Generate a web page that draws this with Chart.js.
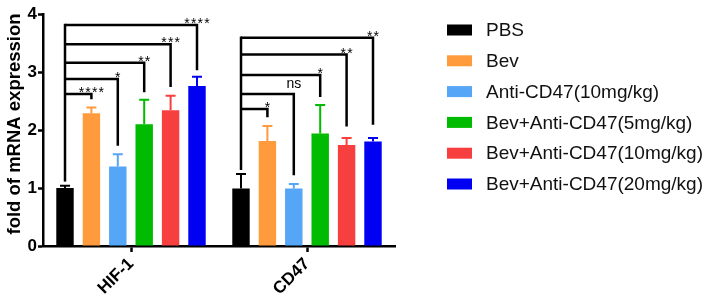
<!DOCTYPE html>
<html>
<head>
<meta charset="utf-8">
<script src="https://cdn.jsdelivr.net/npm/chart.js@4/dist/chart.umd.min.js"></script>
<style>
html,body{margin:0;padding:0;background:#fff;}
#wrap{width:706px;height:299px;position:relative;}
</style>
</head>
<body>
<div id="wrap"><canvas id="c" width="706" height="299"></canvas></div>
<script>
// ---- data ----
const categories = ['HIF-1', 'CD47'];
const groupNames = ['PBS', 'Bev', 'Anti-CD47(10mg/kg)', 'Bev+Anti-CD47(5mg/kg)', 'Bev+Anti-CD47(10mg/kg)', 'Bev+Anti-CD47(20mg/kg)'];
const pbsValues   = [1.00, 0.99];
const bevValues   = [2.29, 1.81];
const anti10Values = [1.37, 0.99];
const combo5Values = [2.10, 1.94];
const combo10Values = [2.34, 1.74];
const combo20Values = [2.76, 1.80];
// upper error bar ends
const pbsErrTop   = [1.04, 1.24];
const bevErrTop   = [2.39, 2.07];
const anti10ErrTop = [1.58, 1.07];
const combo5ErrTop = [2.52, 2.43];
const combo10ErrTop = [2.59, 1.86];
const combo20ErrTop = [2.92, 1.86];
const yTicks = [0, 1, 2, 3, 4];
const yTitle = 'fold of mRNA expression';
// significance brackets (PBS vs each group), per category
const hifBracketLevels = [2.62, 2.88, 3.16, 3.48, 3.81];
const hifDropEnds      = [2.53, 1.73, 2.65, 2.74, 3.03];
const hifSigLabels     = ['****', '*', '**', '***', '****'];
const hifSourceEnd     = 1.11;
const cd47BracketLevels = [2.36, 2.62, 2.95, 3.30, 3.59];
const cd47DropEnds      = [2.22, 1.22, 2.57, 2.06, 2.09];
const cd47SigLabels     = ['*', 'ns', '*', '**', '**'];
const cd47SourceEnd     = 1.31;

const colors = ['#000000', '#FF9B3D', '#55A6F6', '#00BB00', '#F83F3F', '#0000F2'];
const valueSets = [pbsValues, bevValues, anti10Values, combo5Values, combo10Values, combo20Values];
const errSets = [pbsErrTop, bevErrTop, anti10ErrTop, combo5ErrTop, combo10ErrTop, combo20ErrTop];
const brackets = [
  {levels: hifBracketLevels, drops: hifDropEnds, labels: hifSigLabels, src: hifSourceEnd},
  {levels: cd47BracketLevels, drops: cd47DropEnds, labels: cd47SigLabels, src: cd47SourceEnd}
];

const FONT = "'Liberation Sans', Arial, Helvetica, sans-serif";

const errorBarPlugin = {
  id: 'errorBars',
  afterDatasetsDraw(chart) {
    const ctx = chart.ctx, y = chart.scales.y;
    ctx.save();
    chart.data.datasets.forEach((ds, di) => {
      const meta = chart.getDatasetMeta(di);
      meta.data.forEach((bar, i) => {
        const top = y.getPixelForValue(errSets[di][i]);
        const yb = y.getPixelForValue(valueSets[di][i]);
        ctx.strokeStyle = colors[di];
        ctx.lineWidth = 2;
        ctx.beginPath();
        ctx.moveTo(bar.x, yb);
        ctx.lineTo(bar.x, top);
        ctx.moveTo(bar.x - 5, top);
        ctx.lineTo(bar.x + 5, top);
        ctx.stroke();
      });
    });
    ctx.restore();
  }
};

const bracketPlugin = {
  id: 'brackets',
  afterDatasetsDraw(chart) {
    const ctx = chart.ctx, y = chart.scales.y;
    ctx.save();
    ctx.strokeStyle = '#000';
    ctx.fillStyle = '#000';
    ctx.lineWidth = 2.5;
    ctx.lineCap = 'butt';
    brackets.forEach((b, ci) => {
      const srcX = chart.getDatasetMeta(0).data[ci].x;
      const topLevel = Math.max(...b.levels);
      ctx.beginPath();
      ctx.moveTo(srcX, y.getPixelForValue(b.src));
      ctx.lineTo(srcX, y.getPixelForValue(topLevel) - 1.25);
      ctx.stroke();
      b.levels.forEach((lv, k) => {
        const tx = chart.getDatasetMeta(k + 1).data[ci].x;
        const ly = y.getPixelForValue(lv);
        ctx.beginPath();
        ctx.moveTo(srcX, ly);
        ctx.lineTo(tx, ly);
        ctx.lineTo(tx, y.getPixelForValue(b.drops[k]));
        ctx.stroke();
        const lab = b.labels[k];
        ctx.textAlign = 'center';
        ctx.textBaseline = 'alphabetic';
        ctx.font = '14px ' + FONT;
        if (lab === 'ns') {
          ctx.fillText(lab, tx, ly - 6);
        } else {
          ctx.fillText(lab.split('').join('\u200A'), tx, ly + 3);
        }
      });
    });
    ctx.restore();
  }
};

const titleAndLegendPlugin = {
  id: 'customLegend',
  afterDraw(chart) {
    const ctx = chart.ctx;
    ctx.save();
    // y axis title
    ctx.save();
    ctx.translate(15, 124);
    ctx.rotate(-Math.PI / 2);
    ctx.font = 'bold 18.5px ' + FONT;
    ctx.fillStyle = '#000';
    ctx.textAlign = 'center';
    ctx.textBaseline = 'middle';
    ctx.fillText(yTitle, 0, 0);
    ctx.restore();
    // legend
    ctx.font = '19px ' + FONT;
    ctx.textBaseline = 'middle';
    ctx.textAlign = 'left';
    chart.data.datasets.forEach((ds, i) => {
      const cy = 30 + i * 30.8;
      ctx.fillStyle = ds.backgroundColor;
      ctx.fillRect(447, cy - 5.5, 25, 11);
      ctx.fillStyle = '#111';
      ctx.fillText(ds.label, 486, cy + 1);
    });
    ctx.restore();
  }
};

new Chart(document.getElementById('c'), {
  type: 'bar',
  data: {
    labels: categories,
    datasets: groupNames.map((name, i) => ({
      label: name,
      data: valueSets[i],
      backgroundColor: colors[i],
      borderWidth: 0,
      barPercentage: 0.66,
      categoryPercentage: 0.9
    }))
  },
  options: {
    responsive: false,
    animation: false,
    devicePixelRatio: 1,
    layout: {padding: {top: 14, right: 311, left: 0, bottom: 0}},
    plugins: {legend: {display: false}, tooltip: {enabled: false}},
    scales: {
      x: {
        grid: {display: true, drawOnChartArea: false, offset: false, tickLength: 6, tickWidth: 2.5, tickColor: '#000'},
        border: {display: true, color: '#000', width: 2.5},
        ticks: {color: '#000', maxRotation: 45, minRotation: 45, padding: 2, font: {family: FONT, size: 17, weight: 'bold'}},
        afterFit(s) { s.height = 53; }
      },
      y: {
        min: 0, max: 4,
        afterBuildTicks(s) { s.ticks = yTicks.map(v => ({value: v})); },
        grid: {display: true, drawOnChartArea: false, tickLength: 5, tickWidth: 2.5, tickColor: '#000'},
        border: {display: true, color: '#000', width: 2.5},
        ticks: {color: '#000', padding: 1, font: {family: FONT, size: 17, weight: 'bold'}},
        afterFit(s) { s.width = 43; }
      }
    }
  },
  plugins: [errorBarPlugin, bracketPlugin, titleAndLegendPlugin]
});
</script>
</body>
</html>
